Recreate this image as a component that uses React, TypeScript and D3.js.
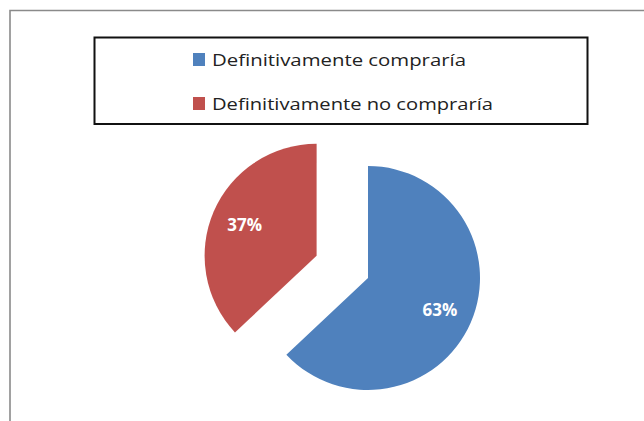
import React from "react";
import * as d3 from "d3";

const categories = ["Definitivamente compraría", "Definitivamente no compraría"];
const values = [63, 37];
const colors = ["#4F81BD", "#C0504D"];
const explode = [0, 56];

const W = 644;
const H = 421;
const cx = 368;
const cy = 278;
const R = 112;

export default function App() {
  const pie = d3
    .pie<number>()
    .sort(null)
    .startAngle(0)
    .endAngle(2 * Math.PI)(values);
  const arc = d3.arc<d3.PieArcDatum<number>>().innerRadius(0).outerRadius(R);
  const total = d3.sum(values);
  const legendY = [66, 110];
  const legendLen = [254, 281];

  return (
    <svg
      width={W}
      height={H}
      style={{ position: "absolute", left: 0, top: 0, background: "#fff" }}
      fontFamily="'Open Sans', 'Liberation Sans', sans-serif"
    >
      <rect x={0} y={0} width={W} height={H} fill="#fff" />
      <path d={`M10,${H + 2} L10,10.5 L${W + 2},10.5`} fill="none" stroke="#8a8a8a" strokeWidth={1.6} />
      <rect x={94.5} y={37.5} width={493} height={86.5} fill="#fff" stroke="#111" strokeWidth={2} />
      {categories.map((c, i) => (
        <g key={c}>
          <rect x={193} y={legendY[i] - 13} width={12} height={13} fill={colors[i]} />
          <text
            x={212}
            y={legendY[i]}
            fontSize={17}
            fill="#222"
            textLength={legendLen[i]}
            lengthAdjust="spacingAndGlyphs"
          >
            {c}
          </text>
        </g>
      ))}
      {pie.map((p, i) => {
        const mid = (p.startAngle + p.endAngle) / 2;
        const dx = Math.sin(mid) * explode[i];
        const dy = -Math.cos(mid) * explode[i];
        const lr = R * 0.7;
        const lx = Math.sin(mid) * lr;
        const ly = -Math.cos(mid) * lr;
        return (
          <g key={i} transform={`translate(${cx + dx},${cy + dy})`}>
            <path d={arc(p) || ""} fill={colors[i]} />
            <text
              x={lx}
              y={ly}
              textAnchor="middle"
              dominantBaseline="central"
              fontSize={17}
              fontWeight="bold"
              fill="#fff"
            >
              {`${Math.round((values[i] / total) * 100)}%`}
            </text>
          </g>
        );
      })}
    </svg>
  );
}
